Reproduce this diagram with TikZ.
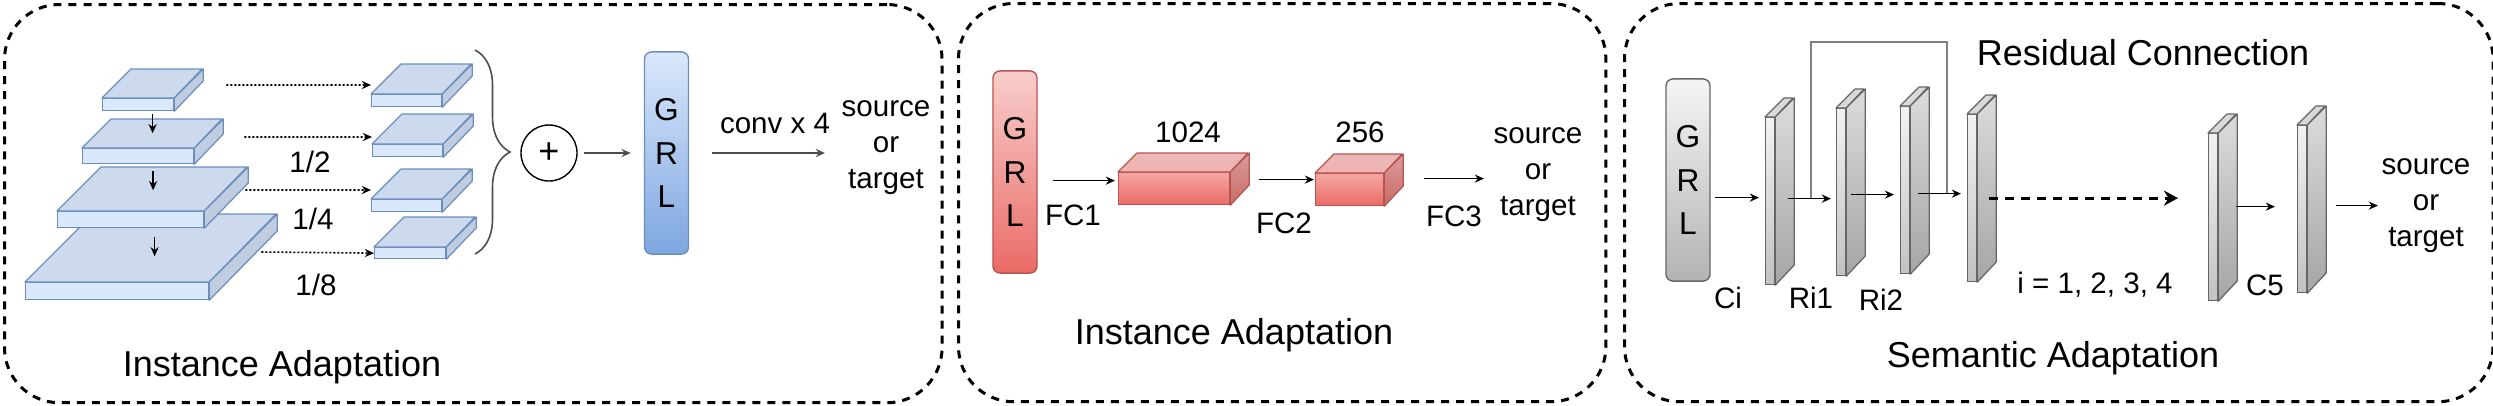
\documentclass[tikz,border=0pt]{standalone}
\usepackage{fontspec}
\setmainfont{Liberation Sans}
\usetikzlibrary{
arrows.meta,
positioning,
decorations.pathreplacing % brace
}
\definecolor{blueface}{HTML}{DAE8FC}
\definecolor{bluelid}{HTML}{CDDAEE}
\definecolor{blueflank}{HTML}{C0CCE0}
\definecolor{blueedge}{HTML}{6C8EBF}
\definecolor{bluedeep}{HTML}{7EA6E0}
\definecolor{redpale}{HTML}{F8CECC}
\definecolor{redmid}{HTML}{F4A7A4}
\definecolor{reddeep}{HTML}{EA6B66}
\definecolor{redlidback}{HTML}{E8BAB8}
\definecolor{redlidfront}{HTML}{F2B2B0}
\definecolor{redflank}{HTML}{DA9C9A}
\definecolor{redflankdeep}{HTML}{C96A67}
\definecolor{rededge}{HTML}{B85450}
\definecolor{graypale}{HTML}{F5F5F5}
\definecolor{graydeep}{HTML}{B3B3B3}
\definecolor{grayfacetop}{HTML}{F2F2F2}
\definecolor{grayfacebot}{HTML}{C2C2C2}
\definecolor{graylid}{HTML}{D9D9D9}
\definecolor{grayflank}{HTML}{DCDCDC}
\definecolor{grayflankdeep}{HTML}{A5A5A5}
\definecolor{grayedge}{HTML}{666666}
\definecolor{darkline}{HTML}{4D4D4D}

\tikzset{
  panel/.style={
    draw,
    anchor=north west,
    line width=0.03cm,
    dash pattern=on 0.08cm off 0.07cm,
    rounded corners=0.55cm
  },
  caption/.style={inner sep=0pt, font=\fontsize{10.24pt}{12.3pt}\selectfont},
  lbl/.style={inner sep=0pt, align=center, font=\fontsize{8.4pt}{10.24pt}\selectfont},
  grlbar/.style={
    draw,
    rounded corners=0.07cm,
    line width=0.4pt,
    inner sep=0pt,
    align=center,
    minimum width=0.44cm,
    minimum height=2.02cm,
    font=\fontsize{9pt}{12.4pt}\selectfont
  },
  % faces of the cuboids
  bluefront/.style={draw=blueedge, fill=blueface, line width=0.35pt, inner sep=0pt, anchor=north west},
  bluetop/.style={draw=blueedge, fill=bluelid, line width=0.35pt, line join=round},
  blueside/.style={draw=blueedge, fill=blueflank, line width=0.35pt, line join=round},
  redfront/.style={draw=rededge, top color=redmid, bottom color=reddeep, line width=0.35pt, inner sep=0pt, anchor=north west},
  redtop/.style={draw=rededge, top color=redlidback, bottom color=redlidfront, line width=0.35pt, line join=round},
  redside/.style={draw=rededge, top color=redflank, bottom color=redflankdeep, line width=0.35pt, line join=round},
  grayfront/.style={draw=grayedge, top color=grayfacetop, bottom color=grayfacebot, line width=0.35pt, inner sep=0pt, anchor=north west},
  graytop/.style={draw=grayedge, fill=graylid, line width=0.35pt, line join=round},
  grayside/.style={draw=grayedge, top color=grayflank, bottom color=grayflankdeep, line width=0.35pt, line join=round}
}

% #1 name, #2 x, #3 y, #4 width, #5 height, #6 depth, #7 colour set
\newcommand{\featbox}[7]{%
  \node[#7front, minimum width=#4*0.01cm, minimum height=#5*0.01cm] (#1) at (#2,#3) {};
  \draw[#7top] (#1.north west) -- ++(#6,-#6) -- ++(#4,0) -- (#1.north east) -- cycle;
  \draw[#7side] (#1.north east) -- ++(#6,-#6) -- ++(0,#5) -- (#1.south east) -- cycle;
}

\begin{document}
\begin{tikzpicture}[
    x=0.01cm,
    y=-0.01cm,
    link/.style={
      line width=0.4pt,
      -{Stealth[length=2.6pt,width=2.3pt]}
    },
    dotlink/.style={
      link,
      line width=0.45pt,
      dash pattern=on 0.57pt off 0.57pt
    },
    dashlink/.style={
      line width=0.03cm,
      dash pattern=on 0.09cm off 0.07cm,
      -{Stealth[length=4pt,width=4.3pt]}
    },
    skip/.style={
      draw=gray,
      line width=0.45pt
    },
    bracket/.style={
      draw=darkline,
      line width=0.45pt,
      decorate,
      decoration={brace, amplitude=0.35cm}
    },
    sumnode/.style={
      circle,
      draw,
      line width=0.4pt,
      minimum size=0.56cm,
      inner sep=0pt,
      font=\fontsize{10.24pt}{12pt}\selectfont
    }
  ]
  \useasboundingbox (0,0) rectangle (2493,405);
  \node[panel, minimum width=9.37cm, minimum height=3.98cm] (frameA) at (3,3) {};
  \node[panel, minimum width=6.47cm, minimum height=3.98cm] (frameB) at (957,2) {};
  \node[panel, minimum width=8.68cm, minimum height=3.98cm] (frameC) at (1623,2) {};

  % first panel: pyramid, maps, sum, GRL
  \featbox{lvlD}{25}{282}{183}{17}{68}{blue}
  \featbox{lvlC}{57}{211}{146}{16}{44}{blue}
  \featbox{lvlB}{82}{148}{111}{15}{29}{blue}
  \featbox{lvlA}{102}{98}{71}{12}{29}{blue}
  \draw[link] ([xshift=0.145cm,yshift=-0.03cm]lvlA.south) -- ++(0,19);
  \draw[link] ([xshift=0.15cm,yshift=-0.07cm]lvlB.south) -- ++(0,19);
  \draw[link] ([xshift=0.24cm,yshift=-0.09cm]lvlC.south) -- ++(0,19);

  \featbox{mapA}{371}{94}{70}{12}{30}{blue}
  \featbox{mapB}{372}{144}{70}{12}{30}{blue}
  \featbox{mapC}{371}{199}{70}{12}{30}{blue}
  \featbox{mapD}{374}{247}{71}{11}{30}{blue}
  \draw[dotlink] ([xshift=0.52cm,yshift=0.13cm]lvlA.north east) -- ([yshift=0.09cm]mapA.north west);
  \draw[dotlink] ([xshift=0.5cm,yshift=0.11cm]lvlB.north east) -- ([yshift=0.07cm]mapB.north west);
  \draw[dotlink] ([xshift=0.41cm,yshift=0.21cm]lvlC.north east) -- ([yshift=0.09cm]mapC.north west);
  \draw[dotlink] ([xshift=0.52cm,yshift=0.3cm]lvlD.north east) -- (mapD.west);
  \node[lbl] (half) at (310,162) {1/2};
  \node[lbl] (quarter) at (313,219) {1/4};
  \node[lbl] (eighth) at (316,285) {1/8};

  \coordinate (braceTop) at (475,50);
  \coordinate (braceBot) at (475,254);
  \draw[bracket] (braceTop) -- (braceBot);
  \node[sumnode] (sum) at (549,153) {+};
  \node[grlbar, draw=blueedge, top color=blueface, bottom color=bluedeep] (grlA) at (666.5,153) {G\\R\\L};
  \node[lbl] (srcA) at (886,148) {source\\or\\target};
  \draw[link, draw=darkline, shorten <=0.06cm, shorten >=0.13cm] (sum.east) -- (sum.east -| grlA.west);
  \draw[link, draw=darkline, shorten <=0.23cm, shorten >=0.16cm] (grlA.east) -- (grlA.east -| srcA.west);
  \node[lbl] (convA) at (775,123) {conv x 4};
  \node[caption] (titleA) at (282,367) {Instance Adaptation};

  % second panel: fully connected head
  \node[grlbar, draw=rededge, top color=redpale, bottom color=reddeep] (grlB) at (1015,172) {G\\R\\L};
  \featbox{fcA}{1118}{172}{111}{32}{19}{red}
  \featbox{fcB}{1315}{173}{68}{32}{19}{red}
  \node[lbl] (srcB) at (1538,175) {source\\or\\target};
  \draw[link, shorten <=0.15cm, shorten >=0.03cm] ([yshift=0.08cm]fcA.west -| grlB.east) -- ([yshift=0.08cm]fcA.west);
  \draw[link, shorten <=0.29cm, shorten >=0.01cm] ([yshift=0.1cm]fcB.west -| fcA.east) -- ([yshift=0.1cm]fcB.west);
  \draw[link, shorten <=0.4cm, shorten >=0.09cm] ([yshift=0.11cm]fcB.east) -- ([yshift=0.11cm]fcB.east -| srcB.west);
  \node[lbl] (fcOne) at (1073,215) {FC1};
  \node[lbl] (fcTwo) at (1284,223) {FC2};
  \node[lbl] (fcThree) at (1454,216) {FC3};
  \node[lbl] (dimA) at (1188,132) {1024};
  \node[lbl] (dimB) at (1360,132) {256};
  \node[caption] (titleB) at (1234,335) {Instance Adaptation};

  % third panel: conv plates with residual link
  \node[grlbar, draw=grayedge, top color=graypale, bottom color=graydeep] (grlC) at (1688,180) {G\\R\\L};
  \featbox{plA}{1765}{117}{9}{167}{19}{gray}
  \featbox{plB}{1836}{108}{9}{167}{19}{gray}
  \featbox{plC}{1900}{106}{9}{167}{19}{gray}
  \featbox{plD}{1967}{114}{9}{167}{19}{gray}
  \featbox{plE}{2208}{133}{9}{167}{19}{gray}
  \featbox{plF}{2297}{125}{9}{167}{19}{gray}
  \node[lbl] (srcC) at (2426,206) {source\\or\\target};
  \draw[link, shorten <=0.04cm, shorten >=0.06cm] ([yshift=0.035cm]plA.west -| grlC.east) -- ([yshift=0.035cm]plA.west);
  \draw[link, shorten <=0.13cm, shorten >=0.05cm] ([yshift=-0.065cm]plB.west -| plA.east) -- ([yshift=-0.065cm]plB.west);
  \draw[link, shorten <=0.05cm, shorten >=0.06cm] ([yshift=-0.045cm]plC.west -| plB.east) -- ([yshift=-0.045cm]plC.west);
  \draw[link, shorten <=0.08cm, shorten >=0.06cm] ([yshift=0.045cm]plD.west -| plC.east) -- ([yshift=0.045cm]plD.west);
  \draw[dashlink, shorten <=0.12cm, shorten >=0.3cm] (plD.east) -- (plD.east -| plE.west);
  \draw[link, shorten <=0.18cm, shorten >=0.22cm] ([yshift=0.025cm]plF.west -| plE.east) -- ([yshift=0.025cm]plF.west);
  \draw[link, shorten <=0.29cm, shorten >=0.03cm] ([yshift=0.035cm]plF.east) -- ([yshift=0.035cm]plF.east -| srcC.west);
  \coordinate (skipIn) at (1811,198);
  \coordinate (skipTop) at (1880,42);
  \coordinate (skipOut) at (1947,193);
  \draw[skip] (skipIn) |- (skipTop) -| (skipOut);
  \node[lbl] (ci) at (1728,298) {Ci};
  \node[lbl] (riOne) at (1811,298) {Ri1};
  \node[lbl] (riTwo) at (1881,300) {Ri2};
  \node[lbl] (iset) at (2095,285) {i = 1, 2, 3, 4};
  \node[lbl] (cFive) at (2265,285) {C5};
  \node[caption] (titleRes) at (2143,53) {Residual Connection};
  \node[caption] (titleC) at (2053,358) {Semantic Adaptation};
\end{tikzpicture}
\end{document}
